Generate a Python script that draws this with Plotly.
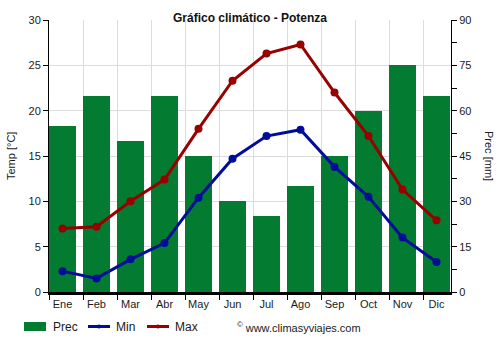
import plotly.graph_objects as go

months = ["Ene", "Feb", "Mar", "Abr", "May", "Jun", "Jul", "Ago", "Sep", "Oct", "Nov", "Dic"]
prec = [55, 65, 50, 65, 45, 30, 25, 35, 45, 60, 75, 65]
tmin = [2.3, 1.5, 3.6, 5.4, 10.4, 14.7, 17.2, 17.9, 13.8, 10.5, 6.0, 3.3]
tmax = [7.0, 7.2, 10.0, 12.4, 18.0, 23.3, 26.3, 27.3, 22.0, 17.2, 11.3, 7.9]

GREEN = "#037b30"
BLUE = "#000d99"
RED = "#990000"
FONT = "Liberation Sans, Arial, sans-serif"

xs = list(range(len(months)))
off = 13.5 / 34.0

fig = go.Figure()
# bars on primary (right-side, 0-90) axis so the temperature lines overlay them
fig.add_trace(go.Bar(x=xs, y=prec, width=27 / 34, marker=dict(color=GREEN, line=dict(width=0)),
                     yaxis="y", name="Prec", showlegend=False))
fig.add_trace(go.Scatter(x=xs, y=tmin, mode="lines+markers", line=dict(color=BLUE, width=3),
                         marker=dict(size=8, color=BLUE), name="Min", yaxis="y2", showlegend=False))
fig.add_trace(go.Scatter(x=xs, y=tmax, mode="lines+markers", line=dict(color=RED, width=3),
                         marker=dict(size=8, color=RED), name="Max", yaxis="y2", showlegend=False))

L, R, T, B = 49, 49, 20, 58
W, H = 500, 350
pw = W - L - R
ph = H - T - B

def px(x):
    return (x - L) / pw

def py(y):
    return (H - B - y) / ph

fig.update_layout(
    width=W, height=H,
    margin=dict(l=L, r=R, t=T, b=B),
    paper_bgcolor="white", plot_bgcolor="white",
    font=dict(family=FONT, size=11, color="#1a1a1a"),
    bargap=0,
    xaxis=dict(
        range=[-off, -off + 402 / 34.0],
        tickmode="array", tickvals=xs, ticktext=months,
        ticks="", showgrid=False, zeroline=False,
        showline=True, linecolor="black", linewidth=3,
        tickfont=dict(size=11, color="#1a1a1a"),
        layer="below traces",
        minor=dict(tickmode="linear", tick0=-off, dtick=1, ticks="outside", ticklen=5,
                   tickcolor="black", tickwidth=1, showgrid=True, gridcolor="#dcdcdc", gridwidth=1),
        fixedrange=True,
    ),
    yaxis=dict(
        range=[0, 90], side="right", tickmode="linear", tick0=0, dtick=15,
        ticks="outside", ticklen=5, tickcolor="black",
        showline=True, linecolor="black", linewidth=1,
        showgrid=True, gridcolor="#dcdcdc", gridwidth=1, zeroline=False,
        minor=dict(tickmode="linear", tick0=0, dtick=7.5, ticks="outside", ticklen=5,
                   tickcolor="black", showgrid=False),
        tickfont=dict(size=11, color="#1a1a1a"),
    ),
    yaxis2=dict(
        range=[0, 30], overlaying="y", side="left", tickmode="linear", tick0=0, dtick=5,
        ticks="outside", ticklen=5, tickcolor="black",
        showline=True, linecolor="black", linewidth=1,
        showgrid=False, zeroline=False,
        tickfont=dict(size=11, color="#1a1a1a"),
    ),
)

ann = []
ann.append(dict(text="<b>Gráfico climático - Potenza</b>", x=px(250), y=py(18), xref="paper", yref="paper",
                showarrow=False, font=dict(size=12, color="#111"), xanchor="center", yanchor="middle"))
ann.append(dict(text="Temp [°C]", x=px(11), y=py(156), xref="paper", yref="paper", textangle=-90,
                showarrow=False, font=dict(size=11, color="#1a1a1a"), xanchor="center", yanchor="middle"))
ann.append(dict(text="Prec [mm]", x=px(489), y=py(156), xref="paper", yref="paper", textangle=90,
                showarrow=False, font=dict(size=11, color="#1a1a1a"), xanchor="center", yanchor="middle"))
# legend
ann.append(dict(text="Prec", x=px(51), y=py(327), xref="paper", yref="paper", showarrow=False,
                font=dict(size=12, color="#1a1a1a"), xanchor="left", yanchor="middle"))
ann.append(dict(text="Min", x=px(114), y=py(327), xref="paper", yref="paper", showarrow=False,
                font=dict(size=12, color="#1a1a1a"), xanchor="left", yanchor="middle"))
ann.append(dict(text="Max", x=px(173), y=py(327), xref="paper", yref="paper", showarrow=False,
                font=dict(size=12, color="#1a1a1a"), xanchor="left", yanchor="middle"))
ann.append(dict(text="<sup>©</sup> www.climasyviajes.com", x=px(235), y=py(327), xref="paper", yref="paper",
                showarrow=False, font=dict(size=11, color="#1a1a1a"), xanchor="left", yanchor="middle"))

shapes = []
shapes.append(dict(type="rect", xref="paper", yref="paper", x0=px(24), x1=px(46), y0=py(322), y1=py(331),
                   fillcolor=GREEN, line=dict(width=0)))
for x0, c in [(88, BLUE), (147, RED)]:
    shapes.append(dict(type="line", xref="paper", yref="paper", x0=px(x0), x1=px(x0 + 22), y0=py(326.5), y1=py(326.5),
                       line=dict(color=c, width=3)))
    shapes.append(dict(type="circle", xref="paper", yref="paper", x0=px(x0 + 9), x1=px(x0 + 13),
                       y0=py(324.5), y1=py(328.5), fillcolor=c, line=dict(width=0)))

fig.update_layout(annotations=ann, shapes=shapes)
fig.write_html("out.html")
